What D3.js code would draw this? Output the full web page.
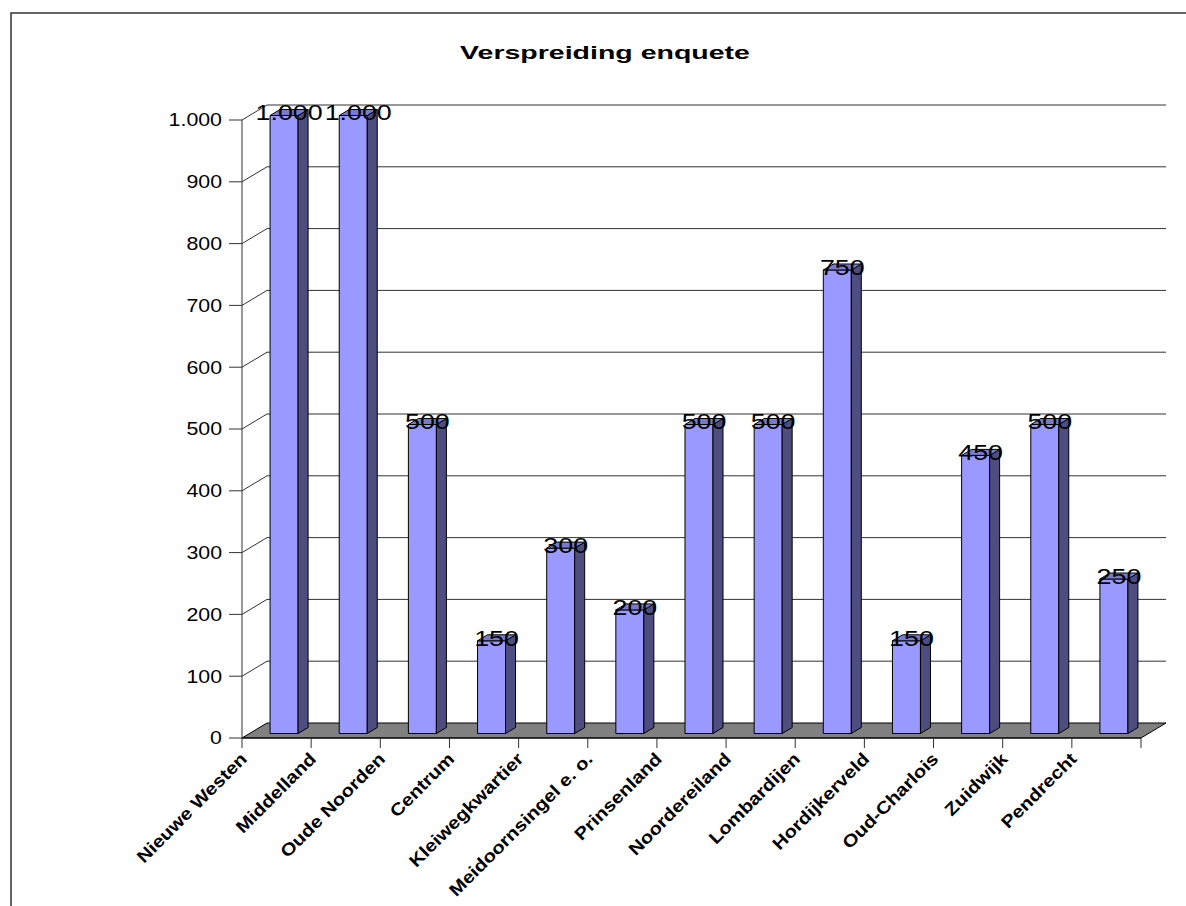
<!DOCTYPE html>
<html>
<head>
<meta charset="utf-8">
<title>Verspreiding enquete</title>
<script src="https://cdn.jsdelivr.net/npm/d3@7"></script>
<style>
  html, body { margin: 0; padding: 0; background: #fff; }
  svg text { font-family: "Liberation Sans", Arial, sans-serif; fill: #000; }
</style>
</head>
<body>
<div id="chart"></div>
<script>
// 3D-style bar chart: Verspreiding enquete

const categories = ["Nieuwe Westen", "Middelland", "Oude Noorden", "Centrum", "Kleiwegkwartier",
  "Meidoornsingel e. o.", "Prinsenland", "Noordereiland", "Lombardijen", "Hordijkerveld",
  "Oud-Charlois", "Zuidwijk", "Pendrecht"];
const values = [1000, 1000, 500, 150, 300, 200, 500, 500, 750, 150, 450, 500, 250];
const yTicks = [0, 100, 200, 300, 400, 500, 600, 700, 800, 900, 1000];
const title = "Verspreiding enquete";

function drawChart() {
  const width = 1186, height = 906;
  const left = 242, right = 1141, bottom = 738, top = 120;
  const depthX = 25, depthY = -15;       // oblique depth of the floor
  const barFront = 0.3, barBack = 0.7;   // bar depth inside the floor

  const fmt = function(v) { return d3.format(",")(v).replace(/,/g, "."); };

  const svg = d3.select("#chart")
    .append("svg")
    .attr("width", width)
    .attr("height", height)
    .attr("viewBox", [0, 0, width, height]);

  svg.append("rect")
    .attr("x", 11).attr("y", 13)
    .attr("width", 1200).attr("height", 1000)
    .attr("fill", "#fff")
    .attr("stroke", "#333")
    .attr("stroke-width", 1.5);

  const x = d3.scaleBand().domain(categories).range([left, right]).padding(0);
  const y = d3.scaleLinear().domain([0, 1000]).range([bottom, top]);

  svg.append("text")
    .attr("transform", "translate(605,59) scale(1.5,1)")
    .attr("text-anchor", "middle")
    .attr("font-size", 19)
    .attr("font-weight", "bold")
    .text(title);

  // walls: gridlines
  const grid = svg.append("g").attr("stroke", "#333").attr("stroke-width", 1).attr("fill", "none");
  yTicks.filter(function(d) { return d > 0; }).forEach(function(v) {
    grid.append("path")
      .attr("d", "M" + left + "," + y(v) + "l" + depthX + "," + depthY + "H" + (right + depthX));
  });

  // floor
  svg.append("path")
    .attr("d", "M" + left + "," + y(0) + "H" + right + "l" + depthX + "," + depthY +
      "H" + (left + depthX) + "Z")
    .attr("fill", "#808080")
    .attr("stroke", "#000")
    .attr("stroke-width", 1);

  // value axis
  const yAxis = svg.append("g").attr("stroke", "#333");
  yAxis.append("line")
    .attr("x1", left).attr("x2", left)
    .attr("y1", y(1000)).attr("y2", y(0));
  yAxis.selectAll("line.tick")
    .data(yTicks)
    .join("line")
    .attr("class", "tick")
    .attr("x1", left - 13).attr("x2", left)
    .attr("y1", function(d) { return y(d); })
    .attr("y2", function(d) { return y(d); });

  svg.append("g")
    .selectAll("text")
    .data(yTicks)
    .join("text")
    .attr("transform", function(d) { return "translate(222," + y(d) + ") scale(1.22,1)"; })
    .attr("text-anchor", "end")
    .attr("dy", "0.36em")
    .attr("font-size", 17.5)
    .text(fmt);

  // category axis
  const xAxis = svg.append("g").attr("stroke", "#000");
  xAxis.append("line")
    .attr("x1", left).attr("x2", right)
    .attr("y1", bottom).attr("y2", bottom);
  xAxis.selectAll("line.tick")
    .data(d3.range(categories.length + 1))
    .join("line")
    .attr("class", "tick")
    .attr("stroke", "#333")
    .attr("x1", function(i) { return left + i * x.bandwidth(); })
    .attr("x2", function(i) { return left + i * x.bandwidth(); })
    .attr("y1", bottom).attr("y2", bottom + 10);

  svg.append("g")
    .selectAll("text")
    .data(categories)
    .join("text")
    .attr("transform", function(d) {
      return "translate(" + (x(d) + 6) + ",760) rotate(-45) scale(1.15,1)";
    })
    .attr("text-anchor", "end")
    .attr("font-size", 17.5)
    .attr("font-weight", "bold")
    .text(function(d) { return d; });

  // bars
  const barW = x.bandwidth() * 0.405;
  const fx = barFront * depthX, fy = barFront * depthY;
  const bx = (barBack - barFront) * depthX, by = (barBack - barFront) * depthY;

  const bars = svg.append("g")
    .selectAll("g")
    .data(categories.map(function(c, i) { return { name: c, value: values[i] }; }))
    .join("g")
    .attr("stroke", "#000")
    .attr("stroke-width", 1)
    .attr("stroke-linejoin", "round");

  bars.append("path")
    .attr("fill", "#9999ff")
    .attr("d", function(d) {
      const x0 = x(d.name) + (x.bandwidth() - barW) / 2 + fx;
      return "M" + x0 + "," + (y(0) + fy) + "V" + (y(d.value) + fy) + "h" + barW +
        "V" + (y(0) + fy) + "Z";
    });

  bars.append("path")
    .attr("fill", "#4d4d80")
    .attr("d", function(d) {
      const x1 = x(d.name) + (x.bandwidth() + barW) / 2 + fx;
      return "M" + x1 + "," + (y(0) + fy) + "V" + (y(d.value) + fy) + "l" + bx + "," + by +
        "V" + (y(0) + fy + by) + "Z";
    });

  bars.append("path")
    .attr("fill", "#7a7acc")
    .attr("d", function(d) {
      const x0 = x(d.name) + (x.bandwidth() - barW) / 2 + fx;
      const yt = y(d.value) + fy;
      return "M" + x0 + "," + yt + "h" + barW + "l" + bx + "," + by + "h" + (-barW) + "Z";
    });

  // value labels on top of bars
  svg.append("g")
    .selectAll("text")
    .data(categories.map(function(c, i) { return { name: c, value: values[i] }; }))
    .join("text")
    .attr("transform", function(d) {
      const cx = x(d.name) + x.bandwidth() / 2 + fx + bx / 2;
      const cy = y(d.value) + fy + by / 2;
      return "translate(" + cx + "," + cy + ") scale(1.22,1)";
    })
    .attr("text-anchor", "middle")
    .attr("dy", "0.36em")
    .attr("font-size", 22)
    .text(function(d) { return fmt(d.value); });
}

if (document.readyState === "loading") {
  document.addEventListener("DOMContentLoaded", drawChart);
} else {
  drawChart();
}
</script>
</body>
</html>
